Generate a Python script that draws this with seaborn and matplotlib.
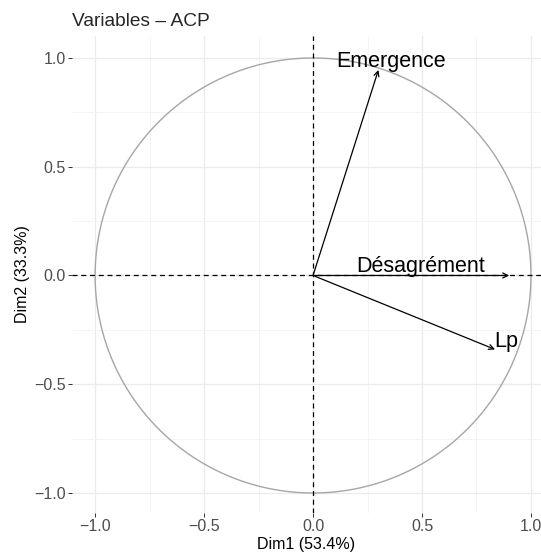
import numpy as np
import pandas as pd
import matplotlib
matplotlib.use("Agg")
import matplotlib.pyplot as plt
import seaborn as sns

variables = ["Emergence", "Désagrément", "Lp"]
dim1 = [0.30, 0.90, 0.835]
dim2 = [0.945, 0.0, -0.34]
label_x = [0.357, 0.495, 0.887]
label_y = [0.985, 0.04, -0.305]
xticks = [-1.0, -0.5, 0.0, 0.5, 1.0]
yticks = [-1.0, -0.5, 0.0, 0.5, 1.0]

sns.set_theme(style="whitegrid")
plt.rcParams['font.family'] = ['Liberation Sans', 'DejaVu Sans']

fig = plt.figure(figsize=(5.41, 5.53), dpi=100)
ax = fig.add_axes([72/541, 1-513/553, (541-72)/541, (513-36)/553])
ax.set_facecolor("white")

theta = np.linspace(0, 2*np.pi, 400)
circ = pd.DataFrame({"x": np.cos(theta), "y": np.sin(theta), "i": np.arange(400)})
sns.lineplot(data=circ, x="x", y="y", sort=False, color="#A6A6A6", lw=1.0, ax=ax, estimator=None)

ax.axhline(0, color="black", ls=(0, (4, 3)), lw=0.9, zorder=2)
ax.axvline(0, color="black", ls=(0, (4, 3)), lw=0.9, zorder=2)

for v, x, y, lx, ly in zip(variables, dim1, dim2, label_x, label_y):
    ax.annotate("", xy=(x, y), xytext=(0, 0),
                arrowprops=dict(arrowstyle="->", color="black", lw=0.9,
                                shrinkA=0, shrinkB=0, mutation_scale=9), zorder=3)
    ax.text(lx, ly, v, ha="center", va="center", fontsize=15.5, color="black", zorder=4)

ax.set_xlim(-1.106, 1.046)
ax.set_ylim(-1.092, 1.101)
ax.set_xticks(xticks)
ax.set_yticks(yticks)
ax.set_xticklabels([f"{t:.1f}".replace("-", "−") for t in xticks])
ax.set_yticklabels([f"{t:.1f}".replace("-", "−") for t in yticks])
ax.set_xticks([-0.75, -0.25, 0.25, 0.75], minor=True)
ax.set_yticks([-0.75, -0.25, 0.25, 0.75], minor=True)
ax.grid(True, which="major", color="#EBEBEB", lw=0.9)
ax.grid(True, which="minor", color="#F3F3F3", lw=0.6)
for s in ax.spines.values():
    s.set_visible(False)
ax.tick_params(axis="both", which="major", length=3, width=0.7, color="#333333",
               labelsize=11.5, labelcolor="#4D4D4D", pad=1.5, bottom=True, left=True)
ax.tick_params(axis="both", which="minor", length=0)
ax.set_xlabel("Dim1 (53.4%)", fontsize=11.5, color="black", labelpad=2)
ax.set_ylabel("Dim2 (33.3%)", fontsize=11.5, color="black", labelpad=3)
ax.set_title("Variables – ACP", fontsize=13.8, loc="left", pad=7)
ax.set_axisbelow(True)

fig.savefig("out.png", dpi=100)
